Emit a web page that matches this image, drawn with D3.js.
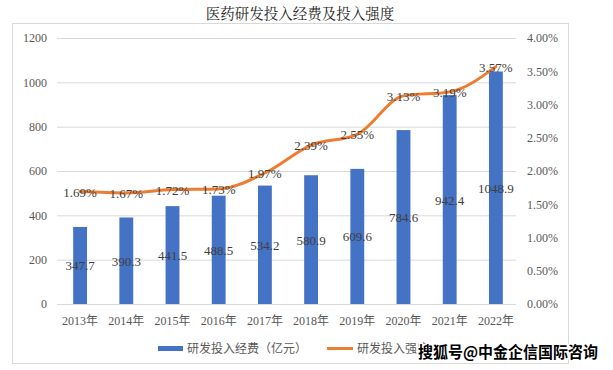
<!DOCTYPE html>
<html><head><meta charset="utf-8">
<script src="https://cdn.jsdelivr.net/npm/d3@7"></script>
<style>body{margin:0;background:#fff}svg{display:block}</style>
</head><body>
<script>
const years = ["2013年","2014年","2015年","2016年","2017年","2018年","2019年","2020年","2021年","2022年"];
const funding = [347.7,390.3,441.5,488.5,534.2,580.9,609.6,784.6,942.4,1048.9];
const intensity = [1.69,1.67,1.72,1.73,1.97,2.39,2.55,3.13,3.19,3.57];
const leftTicks = [0,200,400,600,800,1000,1200];
const rightTicks = [0,0.5,1,1.5,2,2.5,3,3.5,4];
const title = "医药研发投入经费及投入强度";
const legendNames = ["研发投入经费（亿元）","研发投入强度"];
const watermark = "搜狐号@中金企信国际咨询";

const W=613,H=370;
const svg=d3.select("body").append("svg").attr("width",W).attr("height",H);
const serif="'Liberation Serif','Noto Sans CJK SC',serif";
const sans="'Noto Sans CJK SC','Noto Sans',sans-serif";

svg.append("rect").attr("x",12.5).attr("y",23.5).attr("width",556).attr("height",340)
  .attr("fill","none").attr("stroke","#d9d9d9");

svg.append("text").attr("x",300).attr("y",19).attr("text-anchor","middle")
  .attr("font-family","'Noto Serif CJK SC','Noto Sans CJK SC',serif").attr("font-size",14.5).attr("fill","#262626").text(title);

const x=d3.scaleBand().domain(years).range([57,519]).paddingInner(0.7).paddingOuter(0.35);
const yL=d3.scaleLinear().domain([0,1200]).range([304,38]);
const yR=d3.scaleLinear().domain([0,4]).range([304,38]);

// gridlines
svg.append("g").selectAll("line").data(leftTicks).join("line")
  .attr("x1",57).attr("x2",516).attr("y1",d=>yL(d)+0.5).attr("y2",d=>yL(d)+0.5)
  .attr("stroke","#d9d9d9").attr("stroke-width",1);

// left axis
const axL=svg.append("g").attr("transform","translate(50,0)")
  .call(d3.axisLeft(yL).tickValues(leftTicks).tickSize(0).tickPadding(3).tickFormat(d3.format("d")));
axL.select(".domain").remove();
axL.selectAll("text").attr("font-family",serif).attr("font-size",12).attr("fill","#595959");

// right axis
const axR=svg.append("g").attr("transform","translate(524,0)")
  .call(d3.axisRight(yR).tickValues(rightTicks).tickSize(0).tickPadding(3).tickFormat(d=>d.toFixed(2)+"%"));
axR.select(".domain").remove();
axR.selectAll("text").attr("font-family",serif).attr("font-size",12).attr("fill","#595959");

// x axis
const axX=svg.append("g").attr("transform","translate(0,304)")
  .call(d3.axisBottom(x).tickSize(0).tickPadding(12));
axX.select(".domain").remove();
axX.selectAll("text").attr("font-family",serif).attr("font-size",12).attr("fill","#595959");

// bars
svg.append("g").selectAll("rect").data(funding).join("rect")
  .attr("x",(d,i)=>x(years[i])).attr("width",x.bandwidth())
  .attr("y",d=>yL(d)).attr("height",d=>yL(0)-yL(d)).attr("fill","#4472C4");

svg.append("g").selectAll("text").data(funding).join("text")
  .attr("x",(d,i)=>x(years[i])+x.bandwidth()/2).attr("y",d=>(yL(d)+yL(0))/2+5)
  .attr("text-anchor","middle").attr("font-family",serif).attr("font-size",13).attr("fill","#404040")
  .text(d=>d.toFixed(1));

// line
const cx=i=>x(years[i])+x.bandwidth()/2;
svg.append("path").datum(intensity)
  .attr("d",d3.line().x((d,i)=>cx(i)).y(d=>yR(d)).curve(d3.curveMonotoneX))
  .attr("fill","none").attr("stroke","#ED7D31").attr("stroke-width",3).attr("stroke-linecap","round");

svg.append("g").selectAll("text").data(intensity).join("text")
  .attr("x",(d,i)=>cx(i)).attr("y",d=>yR(d)+5)
  .attr("text-anchor","middle").attr("font-family",serif).attr("font-size",13).attr("fill","#404040")
  .text(d=>d.toFixed(2)+"%");

// legend
const lg=svg.append("g");
lg.append("rect").attr("x",158).attr("y",346).attr("width",25).attr("height",5).attr("fill","#4472C4");
lg.append("text").attr("x",187).attr("y",353).attr("font-family",sans).attr("font-size",12).attr("fill","#595959").text(legendNames[0]);
lg.append("line").attr("x1",327).attr("x2",353).attr("y1",348.5).attr("y2",348.5).attr("stroke","#ED7D31").attr("stroke-width",3);
lg.append("text").attr("x",357).attr("y",353).attr("font-family",sans).attr("font-size",12).attr("fill","#595959").text(legendNames[1]);

// watermark
svg.append("text").attr("x",418).attr("y",358).attr("font-family",sans).attr("font-size",15.5).attr("font-weight","bold")
  .attr("textLength",180).attr("lengthAdjust","spacingAndGlyphs")
  .attr("fill","#000").attr("stroke","#fff").attr("stroke-width",3).attr("paint-order","stroke").text(watermark);
</script>
</body></html>
